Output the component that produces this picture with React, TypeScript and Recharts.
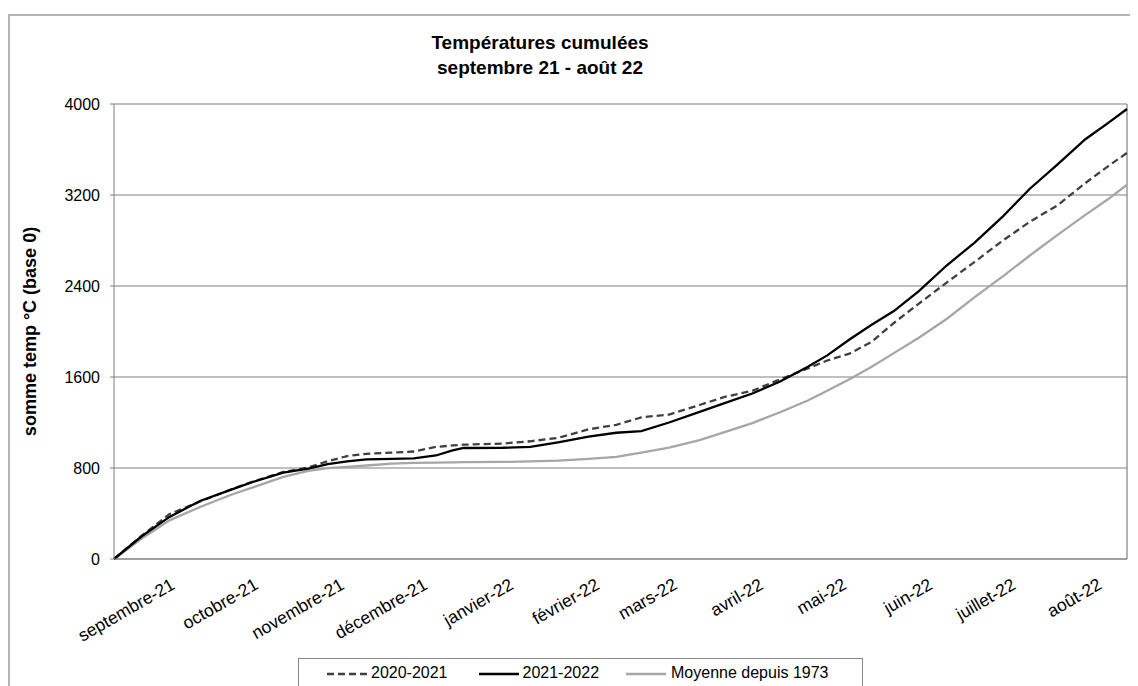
import { LineChart, Line, XAxis, YAxis, CartesianGrid, ReferenceLine } from "recharts"

// day index from the start of the season (0 = 1 sept)
const days = [0, 10, 20, 31, 42, 50, 61, 70, 77, 84, 91, 100, 108, 116, 122, 126, 140, 150, 160, 171, 181, 190, 200, 211, 220, 230, 240, 250, 257, 265, 273, 281, 290, 300, 310, 320, 330, 340, 350, 358, 365]

const s2020 = [0, 205, 395, 505, 610, 680, 765, 805, 860, 905, 925, 935, 945, 985, 998, 1005, 1015, 1035, 1065, 1140, 1180, 1245, 1270, 1354, 1425, 1478, 1580, 1675, 1745, 1805, 1910, 2075, 2245, 2430, 2610, 2795, 2965, 3110, 3305, 3450, 3570]
const s2021 = [0, 200, 370, 510, 607, 677, 760, 795, 835, 858, 875, 880, 885, 910, 955, 976, 978, 985, 1025, 1075, 1110, 1125, 1200, 1294, 1370, 1455, 1560, 1690, 1790, 1930, 2060, 2180, 2355, 2580, 2780, 3005, 3255, 3470, 3690, 3830, 3956]
const moyenne = [0, 180, 340, 457, 563, 630, 722, 775, 798, 810, 822, 838, 845, 848, 850, 851, 853, 858, 865, 880, 898, 935, 980, 1046, 1115, 1195, 1290, 1393, 1480, 1581, 1690, 1810, 1945, 2110, 2300, 2480, 2668, 2850, 3025, 3160, 3290]

const monthTicks = [22, 52, 83, 113, 144, 175, 203, 234, 264, 295, 325, 356]
const monthLabels = ["septembre-21", "octobre-21", "novembre-21", "décembre-21", "janvier-22", "février-22", "mars-22", "avril-22", "mai-22", "juin-22", "juillet-22", "août-22"]

const yTicks = [0, 800, 1600, 2400, 3200, 4000]

const data = days.map((d, i) => ({ day: d, a: s2020[i], b: s2021[i], m: moyenne[i] }))

const FONT = "'Liberation Sans', Arial, sans-serif"

const MonthTick = (props: any) => {
  const { x, y, payload } = props
  const idx = monthTicks.indexOf(payload.value)
  return (
    <text x={x + 1} y={y + 21} transform={`rotate(-30 ${x + 1} ${y + 21})`} textAnchor="end" fontSize={17.5} fontFamily={FONT} fill="#000">
      {monthLabels[idx]}
    </text>
  )
}

export default function App() {
  return (
    <div style={{ position: "relative", width: 1130, height: 678, fontFamily: FONT }}>
      <div style={{ position: "absolute", left: 0, top: 6, width: 1160, height: 700, border: "2px solid #b4b4b4", boxSizing: "border-box" }} />
      <div style={{ position: "absolute", left: 232, width: 600, top: 22, textAlign: "center", fontWeight: "bold", fontSize: 19, lineHeight: "25px", color: "#000" }}>
        Températures cumulées<br />septembre 21 - août 22
      </div>
      <LineChart width={1130} height={678} data={data} margin={{ top: 96, right: 11, left: 0, bottom: 0 }} style={{ position: "absolute", left: 0, top: 0 }}>
        <CartesianGrid vertical={false} stroke="#808080" strokeWidth={1.2} />
        <XAxis
          dataKey="day"
          type="number"
          domain={[0, 365]}
          ticks={monthTicks}
          interval={0}
          tickLine={false}
          height={127}
          stroke="#808080"
          tick={<MonthTick />}
        />
        <YAxis
          domain={[0, 4000]}
          ticks={yTicks}
          width={106}
          tickSize={4}
          tickMargin={10}
          stroke="#808080"
          tick={{ fill: "#000", fontSize: 16, fontFamily: FONT }}
          label={{ value: "somme temp °C (base 0)", angle: -90, position: "insideLeft", offset: 22, style: { textAnchor: "middle", fontWeight: "bold", fontSize: 18, fill: "#000", fontFamily: FONT } }}
        />
        <ReferenceLine x={365} stroke="#808080" strokeWidth={1.2} />
        <Line type="linear" dataKey="m" stroke="#a6a6a6" strokeWidth={2.3} dot={false} isAnimationActive={false} />
        <Line type="linear" dataKey="a" stroke="#404040" strokeWidth={2.3} strokeDasharray="7 4" dot={false} isAnimationActive={false} />
        <Line type="linear" dataKey="b" stroke="#000" strokeWidth={2.3} dot={false} isAnimationActive={false} />
      </LineChart>
      <div style={{ position: "absolute", left: 290, top: 650, width: 565, height: 40, border: "1px solid #888", boxSizing: "border-box", background: "#fff", fontSize: 16, display: "flex", alignItems: "flex-start", paddingTop: 5 }}>
        <svg width={42} height={14} style={{ marginLeft: 28, marginTop: 3 }}><line x1={0} y1={7} x2={42} y2={7} stroke="#404040" strokeWidth={2.5} strokeDasharray="7 4" /></svg>
        <span style={{ marginLeft: 2 }}>2020-2021</span>
        <svg width={40} height={14} style={{ marginLeft: 31, marginTop: 3 }}><line x1={0} y1={7} x2={40} y2={7} stroke="#000" strokeWidth={2.5} /></svg>
        <span style={{ marginLeft: 4 }}>2021-2022</span>
        <svg width={40} height={14} style={{ marginLeft: 27, marginTop: 3 }}><line x1={0} y1={7} x2={40} y2={7} stroke="#a6a6a6" strokeWidth={2.5} /></svg>
        <span style={{ marginLeft: 5 }}>Moyenne depuis 1973</span>
      </div>
    </div>
  )
}
